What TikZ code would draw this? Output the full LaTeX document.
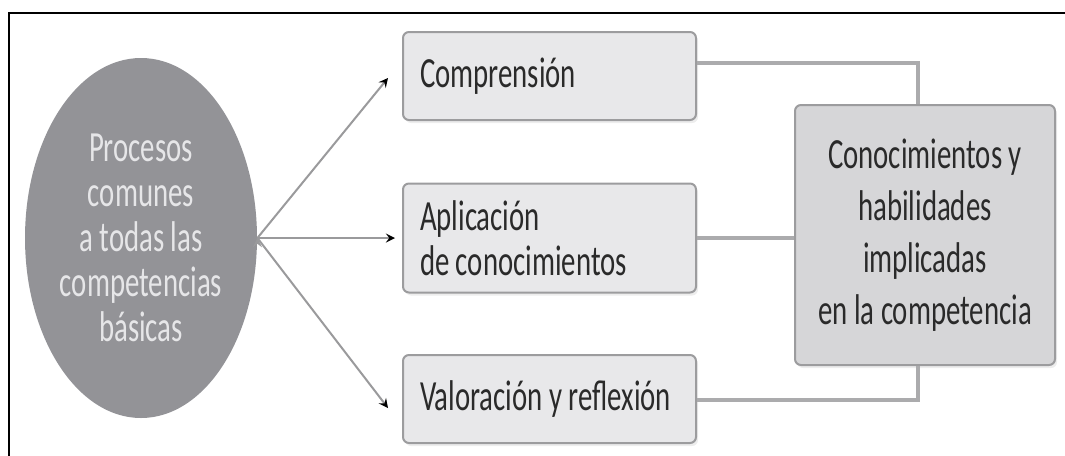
\documentclass[tikz,border=0pt]{standalone}
\usepackage{fontspec}
\setmainfont{Carlito}[FakeStretch=0.67]
\usetikzlibrary{shapes.geometric,arrows,shadows}

\definecolor{ovalgray}{HTML}{939397}
\definecolor{ovaltext}{HTML}{E6E6E8}
\definecolor{boxfill}{HTML}{E8E8EA}
\definecolor{bigfill}{HTML}{D6D6D8}
\definecolor{boxline}{HTML}{9C9C9E}
\definecolor{arrowgray}{HTML}{9A9A9C}
\definecolor{linkgray}{HTML}{ABABAD}
\definecolor{shadegray}{HTML}{EDEDED}
\definecolor{ink}{HTML}{2A2A2A}

\begin{document}
\begin{tikzpicture}
  [x=0.5pt,y=-0.5pt,font=\fontsize{21.5}{22.5}\selectfont,
   every node/.style={inner sep=0pt}]

  \tikzstyle{proc} = [ellipse,fill=ovalgray,text=ovaltext,
    minimum width=116pt,minimum height=180pt,align=center]
  \tikzstyle{stage} = [draw=boxline,line width=1pt,fill=boxfill,
    rounded corners=3pt,minimum width=146.5pt,minimum height=44pt,
    text width=129.5pt,align=flush left,text=ink,
    drop shadow={shadow xshift=1pt,shadow yshift=-1.5pt,fill=shadegray,opacity=1}]
  \tikzstyle{result} = [draw=boxline,line width=1pt,fill=bigfill,
    rounded corners=3pt,minimum width=130pt,minimum height=130pt,
    align=center,text=ink,font=\fontsize{21.5}{26}\selectfont,
    drop shadow={shadow xshift=1pt,shadow yshift=-1.5pt,fill=shadegray,opacity=1}]

  \useasboundingbox (0,0) rectangle (1065,455);
  \draw[line width=1pt] (9,470) -- (9,13) -- (1080,13);

  \node[proc]   (proc) at (141,238) {Procesos\\comunes\\a todas las\\competencias\\básicas};
  \node[stage]  (comp) at (549.5,76) {Comprensión};
  \node[stage,minimum height=54.5pt] (apl) at (549.5,238) {Aplicación\\de conocimientos};
  \node[stage]  (val)  at (549.5,399) {Valoración y reflexión};
  \node[result] (know) at (925,235) {Conocimientos y\\habilidades\\implicadas\\en la competencia};

  \coordinate (tip1) at (388,78);
  \coordinate (tip2) at (395,238);
  \coordinate (tip3) at (388,408);
  \coordinate (bend1) at (918,63);
  \coordinate (bend2) at (918,400);

  \path[->, >=stealth, draw=arrowgray, line width=1pt]
        (proc.east) edge (tip1)
        (proc.east) edge (tip2)
        (proc.east) edge (tip3);

  \draw[linkgray, line width=1.7pt]
        (comp.east |- bend1) -- (bend1) -- (bend1 |- know.north)
        (apl.east) -- (apl.east -| know.west)
        (val.east |- bend2) -- (bend2) -- (bend2 |- know.south);
\end{tikzpicture}
\end{document}
